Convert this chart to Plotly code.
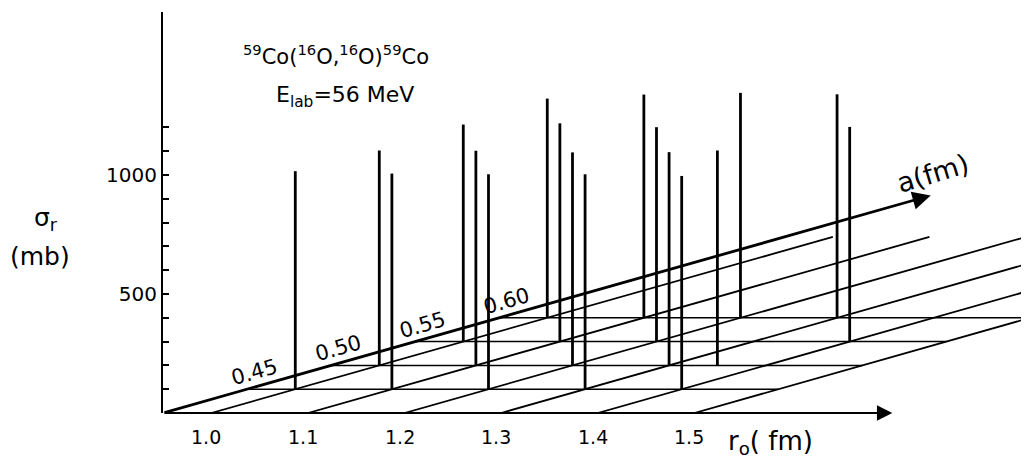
import plotly.graph_objects as go

# ---------------- data ----------------
R_GRID = [1.0, 1.1, 1.2, 1.3, 1.4, 1.5]            # r_o grid lines (fm)
R_TICK_LABELS = ["1.0", "1.1", "1.2", "1.3", "1.4", "1.5"]
A_GRID = [0.45, 0.50, 0.55, 0.60]                  # a grid lines (fm)
A_TICK_LABELS = ["0.45", "0.50", "0.55", "0.60"]
SIGMA_TICKS = [100, 200, 300, 400, 500, 600, 700, 800, 900, 1000, 1100, 1200]
SIGMA_TICK_LABELS = ["", "", "", "", "500", "", "", "", "", "1000", "", ""]

# spikes: (r_o, a) position and reaction cross-section sigma_r (mb)
SPIKE_R = [1.0, 1.0, 1.1, 1.0, 1.1, 1.2, 1.0, 1.1, 1.2, 1.3,
           1.1, 1.2, 1.3, 1.4, 1.35, 1.2, 1.3, 1.4]
SPIKE_A = [0.45, 0.50, 0.45, 0.55, 0.50, 0.45, 0.60, 0.55, 0.50, 0.45,
           0.60, 0.55, 0.50, 0.45, 0.50, 0.60, 0.60, 0.55]
SPIKE_SIGMA = [916, 903, 906, 912, 902, 903, 921, 917, 895, 903,
               938, 901, 896, 896, 903, 945, 939, 902]

# axis extents
R_ORIGIN, A_ORIGIN = 0.95, 0.40
R_AXIS_END = 1.705      # end of r_o arrow
A_AXIS_END = 0.857      # end of a arrow
A_LINE_END = 0.77       # where the constant-r grid lines stop
R_ROW_END = 1.5         # constant-a rows run to the last r line

# ---------------- oblique projection ----------------
KX = 1.739    # horizontal shift (in r units) per unit of a
KY = 2000.0   # vertical shift (in mb) per unit of a


def proj(r, a, s=0.0):
    return r + KX * (a - A_ORIGIN), s + KY * (a - A_ORIGIN)


# ---------------- page geometry ----------------
OFF = 8                      # default body margin of the html page
W, H = 1029 - OFF, 460 - OFF
ML, MR, MT, MB = 163 - OFF, 0, 12 - OFF, 47
PW, PH = W - ML - MR, H - MT - MB
PX_PER_R = 966.0
PX_PER_MB = 0.238
X_RANGE = [R_ORIGIN, R_ORIGIN + PW / PX_PER_R]
Y_RANGE = [0, PH / PX_PER_MB]


def paper(xp, yp):
    """screen pixel position -> paper coordinates (for text placement)"""
    return (xp - OFF - ML) / PW, (H - MB - (yp - OFF)) / PH


fig = go.Figure()

# constant-r grid lines
gx, gy = [], []
for r in R_GRID:
    x0, y0 = proj(r, A_ORIGIN)
    x1, y1 = proj(r, A_LINE_END)
    gx += [x0, x1, None]
    gy += [y0, y1, None]
fig.add_trace(go.Scatter(x=gx, y=gy, mode="lines",
                         line=dict(color="black", width=1.8),
                         hoverinfo="skip", showlegend=False))

# constant-a rows
hx, hy = [], []
for a in A_GRID:
    x0, y0 = proj(R_ORIGIN, a)
    x1, y1 = proj(R_ROW_END, a)
    hx += [x0, x1, None]
    hy += [y0, y1, None]
fig.add_trace(go.Scatter(x=hx, y=hy, mode="lines",
                         line=dict(color="black", width=1.5),
                         hoverinfo="skip", showlegend=False))

# spikes
sx, sy = [], []
for r, a, s in zip(SPIKE_R, SPIKE_A, SPIKE_SIGMA):
    x0, y0 = proj(r, a, 0)
    x1, y1 = proj(r, a, s)
    sx += [x0, x1, None]
    sy += [y0, y1, None]
fig.add_trace(go.Scatter(x=sx, y=sy, mode="lines",
                         line=dict(color="black", width=2.8),
                         hoverinfo="skip", showlegend=False))

annotations = []

# r_o axis arrow
ox, oy = proj(R_ORIGIN, A_ORIGIN)
ex, ey = proj(R_AXIS_END, A_ORIGIN)
annotations.append(dict(x=ex, y=ey, ax=ox, ay=oy, xref="x", yref="y",
                        axref="x", ayref="y", text="", showarrow=True,
                        arrowhead=2, arrowsize=1.4, arrowwidth=2.2,
                        arrowcolor="black", standoff=0, startstandoff=0))
# a axis arrow
ex, ey = proj(R_ORIGIN, A_AXIS_END)
annotations.append(dict(x=ex, y=ey, ax=ox, ay=oy, xref="x", yref="y",
                        axref="x", ayref="y", text="", showarrow=True,
                        arrowhead=2, arrowsize=1.3, arrowwidth=2.8,
                        arrowcolor="black", standoff=0, startstandoff=0))

FONT = "DejaVu Sans"

# r_o tick labels
for r, lab in zip(R_GRID, R_TICK_LABELS):
    x0, y0 = proj(r, A_ORIGIN)
    annotations.append(dict(x=x0, y=y0, xref="x", yref="y", text=lab,
                            showarrow=False, xshift=-5, yshift=-24,
                            xanchor="center", yanchor="middle",
                            font=dict(family=FONT, size=19, color="black")))

# a tick labels along the a axis
for a, lab in zip(A_GRID, A_TICK_LABELS):
    x0, y0 = proj(R_ORIGIN, a)
    annotations.append(dict(x=x0, y=y0, xref="x", yref="y", text=lab,
                            showarrow=False, xshift=8, yshift=17, textangle=-16,
                            xanchor="center", yanchor="middle",
                            font=dict(family=FONT, size=21, color="black")))


def text_at(xp, yp, text, size, angle=0):
    tx, ty = paper(xp, yp)
    annotations.append(dict(x=tx, y=ty, xref="paper", yref="paper",
                            text=text, showarrow=False, textangle=angle,
                            xanchor="center", yanchor="middle",
                            font=dict(family=FONT, size=size, color="black")))


# axis titles
text_at(770, 442, "r<sub>o</sub>( fm)", 26)
text_at(932, 173, "a(fm)", 27, -17)
text_at(46, 219, "σ<sub>r</sub>", 25)
text_at(40, 256, "(mb)", 25)

# reaction / energy label
text_at(336, 55, "<sup>59</sup>Co(<sup>16</sup>O,<sup>16</sup>O)<sup>59</sup>Co", 21)
text_at(345, 96, "E<sub>lab</sub>=56 MeV", 22)

fig.update_layout(
    width=W, height=H,
    margin=dict(l=ML, r=MR, t=MT, b=MB, pad=0),
    paper_bgcolor="white", plot_bgcolor="white",
    showlegend=False,
    xaxis=dict(range=X_RANGE, visible=False, fixedrange=True),
    yaxis=dict(range=Y_RANGE, showgrid=False, zeroline=False,
               showline=True, linecolor="black", linewidth=2.2,
               ticks="inside", ticklen=6, tickwidth=2, tickcolor="black",
               tickvals=SIGMA_TICKS, ticktext=SIGMA_TICK_LABELS,
               tickfont=dict(family=FONT, size=20, color="black"),
               automargin=False, fixedrange=True),
    annotations=annotations,
)

fig.write_html("out.html")
